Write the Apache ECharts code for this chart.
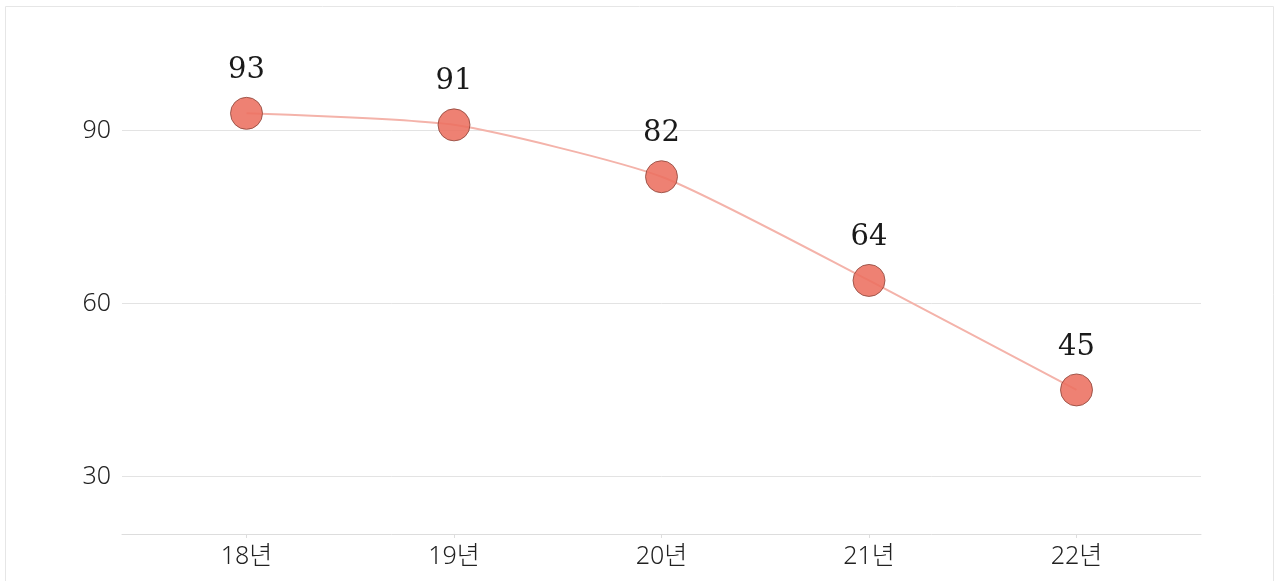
<!DOCTYPE html>
<html>
<head>
<meta charset="utf-8">
<script src="https://cdn.jsdelivr.net/npm/echarts@6/dist/echarts.min.js"></script>
<style>
  html, body { margin: 0; padding: 0; background: #fff; }
  #chart { width: 1276px; height: 581px; }
</style>
</head>
<body>
<div id="chart"></div>
<script>
  // 연도별 값
  const categories = ['18년', '19년', '20년', '21년', '22년']
  const values = [93, 91, 82, 64, 45]
  const yTicks = [30, 60, 90]

  const myChart = echarts.init(document.getElementById('chart'))
  myChart.setOption({
    backgroundColor: '#fff',
    animation: false,
    graphic: [{
      type: 'rect',
      shape: { x: 5.5, y: 6.5, width: 1268, height: 620 },
      style: { fill: 'none', stroke: '#e6e6e6', lineWidth: 1 },
      silent: true
    }],
    grid: {
      left: 122,
      right: 75,
      top: 73,
      bottom: 47
    },
    xAxis: {
      type: 'value',
      min: -0.6,
      max: 4.6,
      axisLine: { show: true, lineStyle: { color: '#dddddd', width: 1 } },
      axisTick: { show: true, customValues: [0, 1, 2, 3, 4], length: 4, lineStyle: { color: '#dddddd' } },
      splitLine: { show: false },
      axisLabel: {
        customValues: [0, 1, 2, 3, 4],
        formatter: (v) => categories[v],
        margin: 10,
        fontSize: 25,
        fontWeight: 300,
        color: '#222',
        fontFamily: '"Noto Sans", "Noto Sans CJK KR", sans-serif'
      }
    },
    yAxis: {
      type: 'value',
      min: 20,
      max: 100,
      axisLine: { show: false },
      axisTick: { show: false, customValues: yTicks },
      splitLine: { show: true, lineStyle: { color: '#e3e3e3', width: 1 } },
      axisLabel: {
        customValues: yTicks,
        margin: 11,
        fontSize: 25,
        fontWeight: 300,
        color: '#222',
        fontFamily: '"Noto Sans", "Noto Sans CJK KR", sans-serif'
      }
    },
    series: [{
      type: 'line',
      data: values.map((v, i) => [i, v]),
      smooth: 0.2,
      lineStyle: { color: '#f4b3aa', width: 2 },
      symbol: 'circle',
      symbolSize: 32,
      itemStyle: {
        color: 'rgba(236, 112, 96, 0.88)',
        borderColor: '#8a4438',
        borderWidth: 0.8
      },
      label: {
        show: true,
        position: 'top',
        distance: 12,
        fontSize: 29,
        color: '#1a1a1a',
        fontFamily: '"DejaVu Serif", "Liberation Serif", serif'
      }
    }]
  })
</script>
</body>
</html>
